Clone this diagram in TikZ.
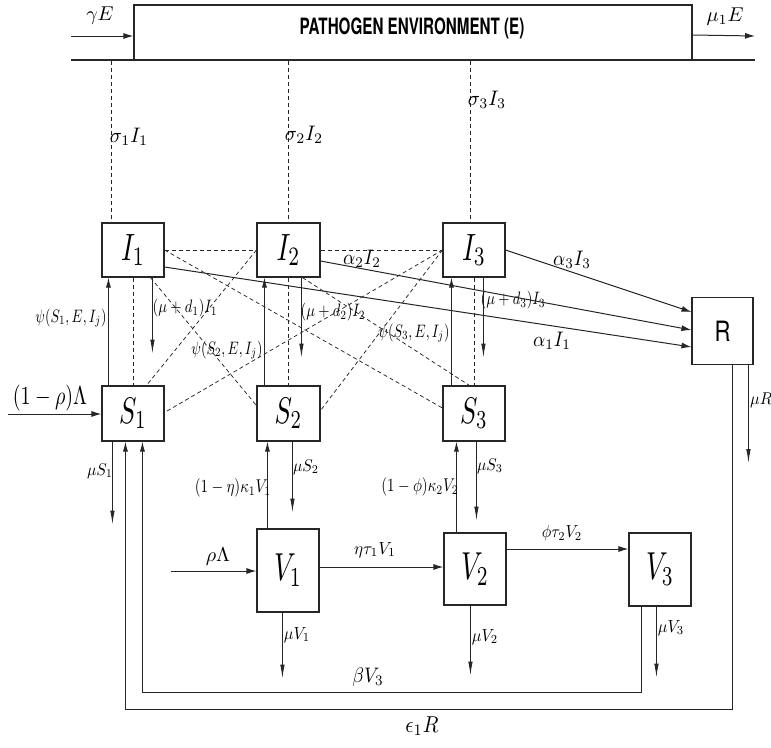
\documentclass[tikz,border=0pt]{standalone}
\usepackage{fontspec}
\newfontfamily\heros{TeX Gyre Heros}
\usepackage{graphicx}
\usetikzlibrary{arrows.meta}
\newcommand{\sq}[3]{\scalebox{#1}[#2]{#3}}
\begin{document}
\begin{tikzpicture}[x=1pt,y=-1pt,
  box/.style={draw=black!85,line width=1.1pt,inner sep=0pt,fill=white},
  lab/.style={inner sep=0pt},
  ln/.style={line width=1pt,draw=black!85},
  arr/.style={ln,-{Latex[length=10pt,width=6pt]}},
  uparr/.style={ln,line width=0.9pt,-{Latex[length=10pt,width=5pt]}},
  darr/.style={ln,line width=0.9pt,-{Latex[length=14pt,width=4.5pt]}},
  dsh/.style={line width=0.75pt,draw=black!85,dash pattern=on 4pt off 3pt}]
\useasboundingbox (0,0) rectangle (771,747);

% environment
\node[box,minimum width=558pt,minimum height=55pt] (E) at (413,32.5) {};
\node[lab] (tE) at (412,28) {\sq{1.52}{2.25}{\heros\bfseries PATHOGEN ENVIRONMENT (E)}};
\coordinate (gl) at (71,60);
\coordinate (gr) at (755,60);
\draw[ln,line width=1.3pt] (gl) -- (gr);
\coordinate (gE) at (71,36);
\draw[arr] (gE) -- (gE -| E.west);
\coordinate (mE) at (755,36);
\draw[arr] ([yshift=-2.5pt]E.east) -- (mE);
\node[lab] (lgE) at (100,16) {\sq{2}{2}{$\gamma E$}};
\node[lab] (lmE) at (725,17) {\sq{2}{2}{$\mu_1E$}};

% boxes
\node[box,minimum width=62pt,minimum height=54pt] (I1) at (133,250) {\sq{2.7}{3.8}{$I_1$}};
\node[box,minimum width=63pt,minimum height=54pt] (I2) at (288.5,250) {\sq{2.7}{3.8}{$I_2$}};
\node[box,minimum width=62pt,minimum height=54pt] (I3) at (474,250) {\sq{2.7}{3.8}{$I_3$}};
\node[box,minimum width=61pt,minimum height=67pt] (R) at (722.5,331) {\sq{2.2}{2.8}{\heros R}};
\node[box,minimum width=62pt,minimum height=55pt] (S1) at (133,413.5) {\sq{2.6}{3.7}{$S_1$}};
\node[box,minimum width=63pt,minimum height=55pt] (S2) at (288.5,413.5) {\sq{2.6}{3.7}{$S_2$}};
\node[box,minimum width=62pt,minimum height=55pt] (S3) at (474,413.5) {\sq{2.6}{3.7}{$S_3$}};
\node[box,minimum width=62pt,minimum height=83pt] (V1) at (288,570.5) {\sq{2.7}{3.9}{$V_1$}};
\node[box,minimum width=62pt,minimum height=72pt] (V2) at (475,569) {\sq{2.7}{3.9}{$V_2$}};
\node[box,minimum width=62pt,minimum height=73pt] (V3) at (660,569.5) {\sq{2.7}{3.9}{$V_3$}};

% shedding dashed lines
\coordinate (t1) at ([xshift=10pt]I1.north west);
\coordinate (t2) at (I2.north);
\coordinate (t3) at ([xshift=28pt]I3.north west);
\draw[dsh] (t1 |- E.south) -- (t1);
\draw[dsh] (t2 |- E.south) -- (t2);
\draw[dsh] (t3 |- E.south) -- (t3);
\node[lab] (ls1) at (129,137) {\sq{2}{2.1}{$\sigma_1 I_1$}};
\node[lab] (ls2) at (304,135) {\sq{2}{2.1}{$\sigma_2 I_2$}};
\node[lab] (ls3) at (487,100) {\sq{2}{2.1}{$\sigma_3 I_3$}};

% dashed interactions
\draw[dsh] (I1.east) -- (I2.west);
\draw[dsh] (I2.east) -- (I3.west);
\draw[dsh] (I1.south) -- (S1.north);
\draw[dsh] (I2.south) -- (S2.north);
\draw[dsh] (I3.south) -- (S3.north);
\draw[dsh] (I2.west) -- ([xshift=45pt]S1.north west);
\draw[dsh] ([xshift=49pt]I1.south west) -- ([yshift=8pt]S2.west);
\draw[dsh] (I1.east) -- ([yshift=5.5pt]S3.west);
\draw[dsh] ([xshift=46pt]I2.south west) -- ([xshift=27pt]S3.north west);
\draw[dsh] (I3.west) -- ([yshift=1pt]S1.east);
\draw[dsh] (I3.west) -- ([yshift=3pt]S2.east);

% infection arrows S -> I
\draw[uparr] ([xshift=7pt]S1.north west) -- ([xshift=7pt]I1.south west);
\draw[uparr] ([xshift=8pt]S2.north west) -- ([xshift=8pt]I2.south west);
\draw[uparr] ([xshift=9pt]S3.north west) -- ([xshift=9pt]I3.south west);
\node[lab] (lp1) at (71,318) {\sq{1.4}{1.8}{$\psi(S_1,E,I_j)$}};
\node[lab] (lp2) at (227,350) {\sq{1.4}{1.8}{$\psi(S_2,E,I_j)$}};
\node[lab] (lp3) at (414,333) {\sq{1.4}{1.8}{$\psi(S_3,E,I_j)$}};

% death from I
\draw[darr] ([xshift=51pt]I1.south west) -- ++(0,76);
\draw[darr] ([xshift=45pt]I2.south west) -- ++(0,80);
\draw[darr] ([xshift=41pt]I3.south west) -- ++(0,80);
\node[lab] (ld1) at (185,308) {\sq{1.45}{1.8}{$(\mu+d_1)I_1$}};
\node[lab] (ld2) at (333,312) {\sq{1.45}{1.8}{$(\mu+d_2)I_2$}};
\node[lab] (ld3) at (513,300) {\sq{1.45}{1.8}{$(\mu+d_3)I_3$}};

% recovery
\draw[arr] (I3.east) -- ([yshift=19pt]R.west);
\draw[arr] ([yshift=-11pt]I2.east) -- ([yshift=1pt]R.west);
\draw[arr] ([yshift=-17pt]I1.east) -- ([yshift=-16pt]R.west);
\node[lab] (la3) at (572,260) {\sq{1.9}{2.1}{$\alpha_3 I_3$}};
\node[lab] (la2) at (362,259) {\sq{1.9}{2.1}{$\alpha_2 I_2$}};
\node[lab] (la1) at (552,341) {\sq{1.9}{2.1}{$\alpha_1 I_1$}};
\draw[darr] ([xshift=57pt]R.south west) -- ++(0,98);
\node[lab,anchor=west] (lmR) at (750,400) {\sq{1.6}{1.7}{$\mu R$}};

% recruitment
\coordinate (inS) at (8,414);
\draw[arr] (inS) -- (inS -| S1.west);
\node[lab] (lrec) at (50,398) {\sq{2.0}{2.6}{$(1-\rho)\Lambda$}};
\coordinate (inV) at (171,571);
\draw[arr] (inV) -- (inV -| V1.west);
\node[lab] (lrl) at (218,557) {\sq{2}{2}{$\rho\Lambda$}};

% S deaths
\draw[darr] ([xshift=11pt]S1.south west) -- ++(0,83);
\draw[darr] ([xshift=36pt]S2.south west) -- ++(0,71);
\draw[darr] ([xshift=34pt]S3.south west) -- ++(0,79);
\node[lab] (lmS1) at (100,471) {\sq{1.55}{1.7}{$\mu S_1$}};
\node[lab] (lmS2) at (306,467) {\sq{1.55}{1.7}{$\mu S_2$}};
\node[lab] (lmS3) at (490,466) {\sq{1.55}{1.7}{$\mu S_3$}};

% V -> S
\coordinate (vs1) at ([xshift=11pt]V1.north west);
\draw[uparr] (vs1) -- (vs1 |- S2.south);
\coordinate (vs2) at ([xshift=13pt]V2.north west);
\draw[uparr] (vs2) -- (vs2 |- S3.south);
\node[lab] (lk1) at (233,488) {\sq{1.5}{1.85}{$(1-\eta)\kappa_1 V_1$}};
\node[lab] (lk2) at (420,487) {\sq{1.5}{1.85}{$(1-\phi)\kappa_2 V_2$}};

% V transitions
\coordinate (v12) at ([yshift=3.5pt]V1.east);
\draw[arr] (v12) -- (v12 -| V2.west);
\coordinate (v23) at ([yshift=20pt]V2.east);
\draw[arr] (v23) -- (v23 -| V3.west);
\node[lab] (lt1) at (375,550) {\sq{1.7}{1.75}{$\eta\tau_1 V_1$}};
\node[lab] (lt2) at (562,533) {\sq{1.6}{1.75}{$\phi\tau_2 V_2$}};

% V deaths
\draw[darr] ([xshift=26pt]V1.south west) -- ++(0,66);
\draw[darr] ([xshift=27pt]V2.south west) -- ++(0,70);
\draw[darr] ([xshift=28pt]V3.south west) -- ++(0,71);
\node[lab] (lmV1) at (297,635) {\sq{1.6}{1.75}{$\mu V_1$}};
\node[lab] (lmV2) at (485,637) {\sq{1.6}{1.75}{$\mu V_2$}};
\node[lab] (lmV3) at (671,628) {\sq{1.6}{1.75}{$\mu V_3$}};

% waning loops
\coordinate (b1) at ([xshift=13pt]V3.south west);
\coordinate (b2) at ([xshift=41pt]S1.south west);
\draw[uparr] (b1) -- ++(0,86) -| (b2);
\coordinate (c1) at ([xshift=41pt]R.south west);
\coordinate (c2) at ([xshift=24pt]S1.south west);
\draw[uparr] (c1) -- ++(0,344) -| (c2);
\node[lab] (lb) at (368,677) {\sq{1.9}{2.1}{$\beta V_3$}};
\node[lab] (le) at (422,726) {\sq{2.05}{2.3}{$\epsilon_1 R$}};
\end{tikzpicture}
\end{document}
